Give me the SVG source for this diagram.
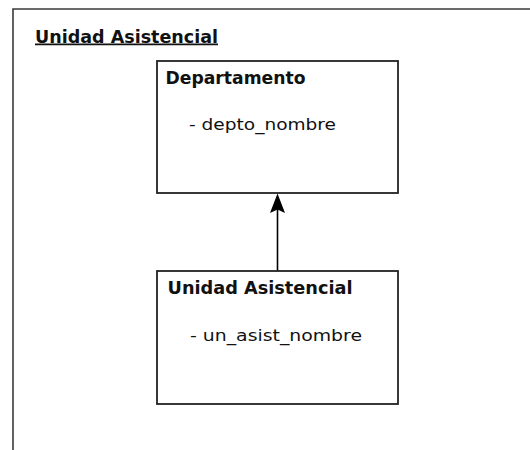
<svg xmlns="http://www.w3.org/2000/svg" width="530" height="450" viewBox="0 0 530 450">
<style>
.frame{fill:none;stroke:#3a3a3a;stroke-width:1.6}
.box{fill:#ffffff;stroke:#222222;stroke-width:1.8}
.hd{font-family:"DejaVu Sans",sans-serif;font-weight:bold;font-size:17.5px;fill:#111111}
.attr{font-family:"DejaVu Sans",sans-serif;font-size:16px;fill:#111111}
.conn{stroke:#000000;stroke-width:1.6;fill:none}
</style>
<rect width="530" height="450" fill="#ffffff"/>
<g id="package">
<path class="frame" d="M13,451 V9 H531"/>
<text class="hd" x="35" y="42.5" textLength="183" lengthAdjust="spacingAndGlyphs" text-decoration="underline">Unidad Asistencial</text>
</g>
<g id="connectors">
<line class="conn" x1="277.5" y1="271" x2="277.5" y2="205"/>
<polygon points="277.5,193.5 270,213 277.5,209.5 285,213" fill="#000000"/>
</g>
<g id="departamento">
<rect class="box" x="157" y="61" width="241" height="132"/>
<text class="hd" x="165.5" y="83.5" textLength="140" lengthAdjust="spacingAndGlyphs">Departamento</text>
<text class="attr" x="189" y="130" textLength="147" lengthAdjust="spacingAndGlyphs">- depto_nombre</text>
</g>
<g id="unidad_asistencial">
<rect class="box" x="157" y="271" width="241" height="133"/>
<text class="hd" x="167.5" y="293.5" textLength="185" lengthAdjust="spacingAndGlyphs">Unidad Asistencial</text>
<text class="attr" x="190" y="340.5" textLength="172" lengthAdjust="spacingAndGlyphs">- un_asist_nombre</text>
</g>
</svg>
